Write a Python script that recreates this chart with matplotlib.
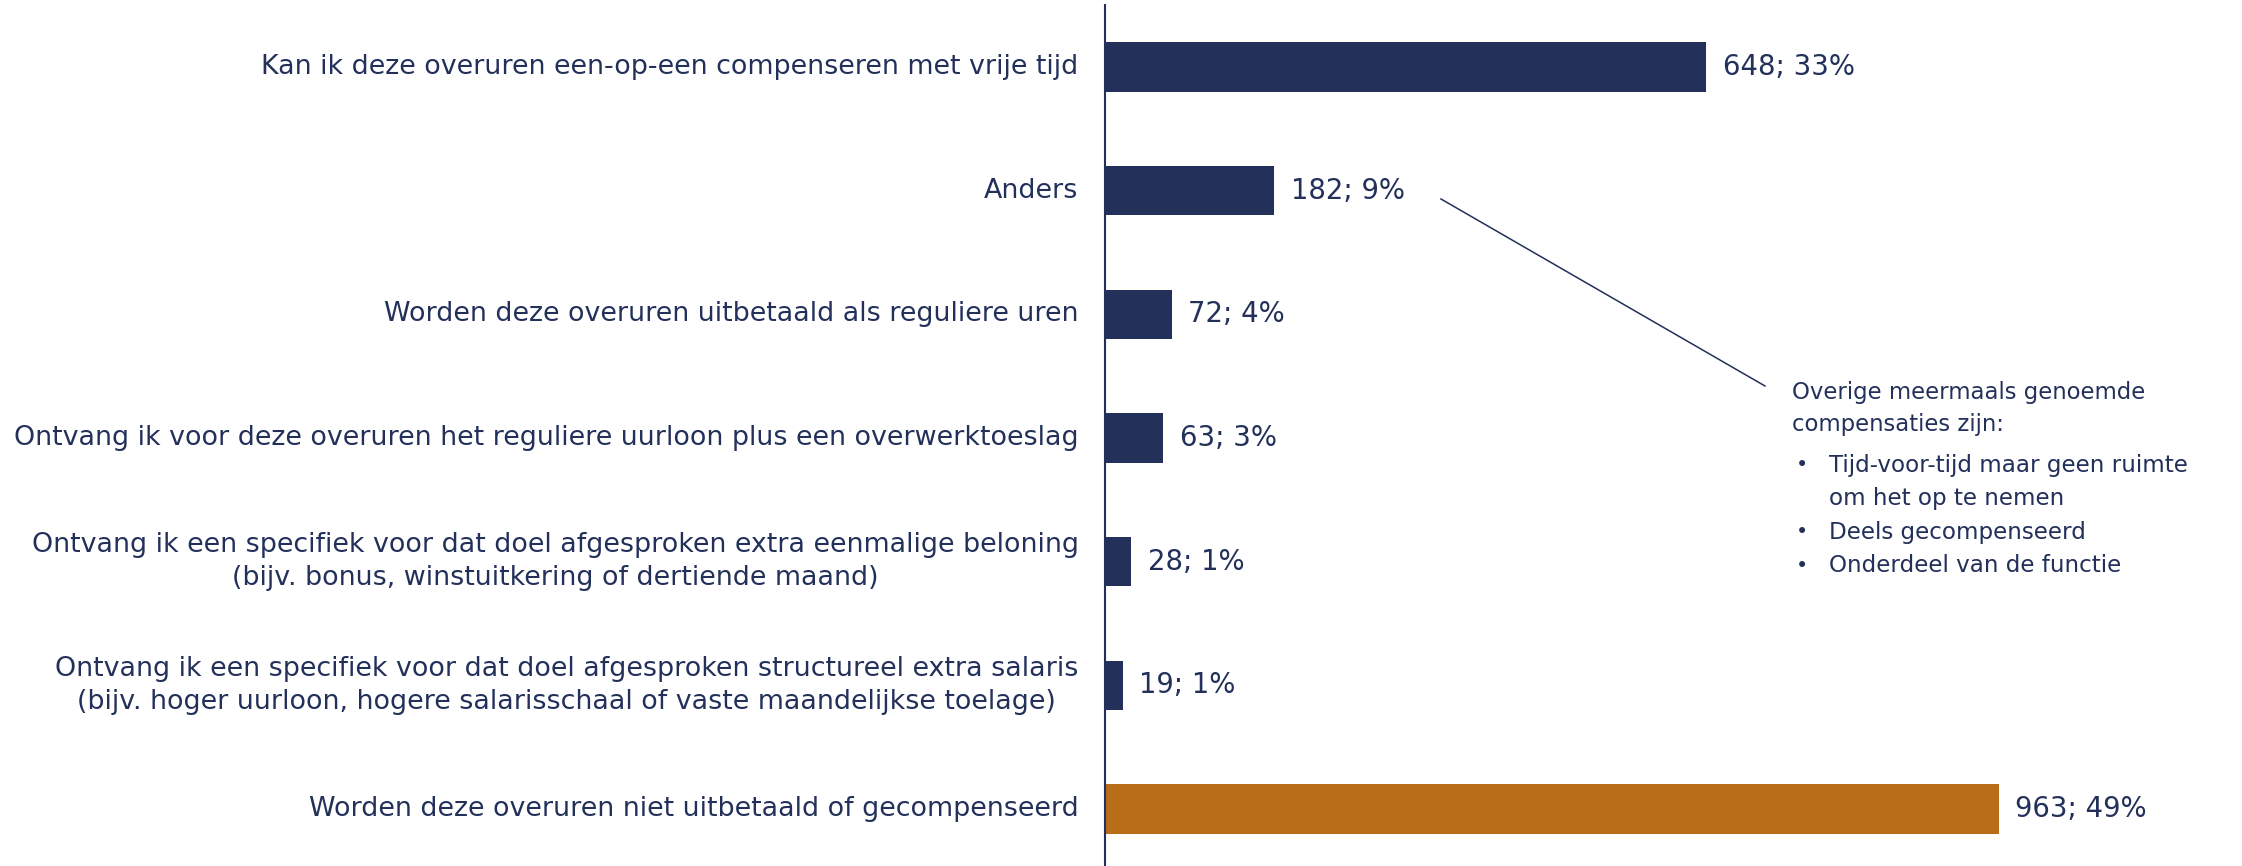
import numpy as np
import matplotlib
from matplotlib import pyplot as plt

matplotlib.rcParams['font.family'] = ['DejaVu Sans']

categories = [
    'Kan ik deze overuren een-op-een compenseren met vrije tijd',
    'Anders',
    'Worden deze overuren uitbetaald als reguliere uren',
    'Ontvang ik voor deze overuren het reguliere uurloon plus een overwerktoeslag',
    'Ontvang ik een specifiek voor dat doel afgesproken extra eenmalige beloning\n'
    '(bijv. bonus, winstuitkering of dertiende maand)',
    'Ontvang ik een specifiek voor dat doel afgesproken structureel extra salaris\n'
    '(bijv. hoger uurloon, hogere salarisschaal of vaste maandelijkse toelage)',
    'Worden deze overuren niet uitbetaald of gecompenseerd',
]
counts = [648, 182, 72, 63, 28, 19, 963]
percents = [33, 9, 4, 3, 1, 1, 49]

note_title = ['Overige meermaals genoemde', 'compensaties zijn:']
note_items = ['Tijd-voor-tijd maar geen ruimte\nom het op te nemen',
              'Deels gecompenseerd',
              'Onderdeel van de functie']

navy = '#22305a'
orange = '#b96d17'
colors = [navy] * 6 + [orange]

W, H = 2242, 866
fig = plt.figure(figsize=(W / 100, H / 100), dpi=100)
ax = fig.add_axes([1105 / W, -4.8 / H, 1 - 1105 / W, 865.6 / H])

y = np.arange(len(categories))
ax.barh(y, counts, height=0.4, color=colors)
ax.set_ylim(len(categories) - 0.5, -0.5)
ax.set_xlim(0, 1225)

for s in ['top', 'right', 'bottom']:
    ax.spines[s].set_visible(False)
ax.spines['left'].set_color(navy)
ax.spines['left'].set_linewidth(1.5)
ax.set_xticks([])
ax.set_yticks([])

# category labels, right aligned next to the axis
for yi, lab in zip(y, categories):
    ax.annotate(lab, (0, yi), xytext=(-19, 0), textcoords='offset points',
                ha='right', va='center', multialignment='center',
                fontsize=19.4, color=navy, linespacing=1.33)

# value labels
for yi, c, p in zip(y, counts, percents):
    ax.annotate(f'{c}; {p}%', (c, yi), xytext=(12, 0), textcoords='offset points',
                ha='left', va='center', fontsize=19.8, color=navy)

# callout line from "Anders" to the note
def px(x, yy):
    return (x / W, 1 - yy / H)

fig.add_artist(matplotlib.lines.Line2D([1441 / W, 1765 / W], [1 - 199 / H, 1 - 386 / H],
                                       color=navy, lw=1.1))

fig.text(*px(1792, 393), note_title[0], ha='left', va='center', fontsize=16.4, color=navy)
fig.text(*px(1792, 425), note_title[1], ha='left', va='center', fontsize=16.4, color=navy)
line_y = [465, 498, 532, 566]
k = 0
for item in note_items:
    fig.text(*px(1796, line_y[k]), '•', ha='left', va='center', fontsize=15, color=navy)
    for sub in item.split('\n'):
        fig.text(*px(1829, line_y[k]), sub, ha='left', va='center', fontsize=16.6, color=navy)
        k += 1

fig.savefig('out.png', dpi=100)
